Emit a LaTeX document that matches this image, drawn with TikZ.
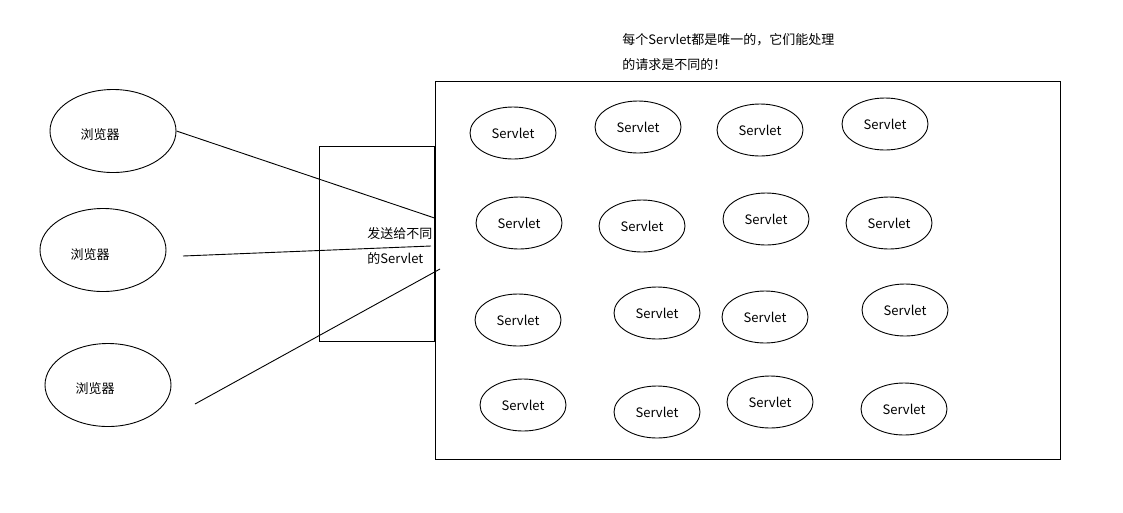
\documentclass[tikz,border=0pt]{standalone}
\usepackage{fontspec}
\setmainfont{Noto Sans CJK SC}
\usetikzlibrary{calc,
shapes.geometric,
positioning}

\begin{document}
\begin{tikzpicture} [x = 1pt, y = -1pt,
  line width = .9pt,
  font = \fontsize{13}{25}\selectfont,
  browser node/.style={ellipse, draw, inner sep = 0,
      minimum width = 126, minimum height = 83},
  servlet node/.style={ellipse, draw, inner sep = 0,
      minimum width = 86, minimum height = 52},
  main node/.style={rectangle, draw, inner sep = 0}]

  \useasboundingbox (0, 0) rectangle (1123, 512);

  % browsers
  \node [browser node,
    label = {[xshift = -13, yshift = -4]center:浏览器}
  ] (b1) at (113, 131) {};
  \node [browser node,
    label = {[xshift = -13, yshift = -5]center:浏览器}
  ] (b2) at (103, 250) {};
  \node [browser node,
    label = {[xshift = -13, yshift = -4]center:浏览器}
  ] (b3) at (108, 385) {};

  % container of the servlets
  \node [main node,
    minimum width = 625,
    minimum height = 378
  ] (box) at (747.5, 270) {};

  \node [main node,
    minimum width = 115,
    minimum height = 195,
    anchor = north east
  ] (disp) at (box.west |- 0, 146) {};

  \node [anchor = west, align = left, inner sep = 0
  ] (disptext) at (367, 245.5) {发送给不同\\的Servlet};

  \node [anchor = west, align = left, inner sep = 0
  ] (title) at (622, 52.5) {每个Servlet都是唯一的，它们能处理\\的请求是不同的！};

  % servlets
  \node [servlet node] (s11) at (513, 133) {Servlet};
  \node [servlet node] (s12) at (638, 127) {Servlet};
  \node [servlet node] (s13) at (760, 130) {Servlet};
  \node [servlet node] (s14) at (885, 124) {Servlet};

  \node [servlet node] (s21) at (519, 223) {Servlet};
  \node [servlet node] (s22) at (642, 226) {Servlet};
  \node [servlet node] (s23) at (766, 219) {Servlet};
  \node [servlet node] (s24) at (889, 223) {Servlet};

  \node [servlet node] (s31) at (518, 320) {Servlet};
  \node [servlet node] (s32) at (657, 313) {Servlet};
  \node [servlet node] (s33) at (765, 317) {Servlet};
  \node [servlet node] (s34) at (905, 310) {Servlet};

  \node [servlet node] (s41) at (523, 405) {Servlet};
  \node [servlet node] (s42) at (657, 412) {Servlet};
  \node [servlet node] (s43) at (770, 402) {Servlet};
  \node [servlet node] (s44) at (904, 409) {Servlet};

  % requests
  \coordinate (r1) at (box.west |- 0, 218);
  \coordinate (a2) at (183, 256);
  \coordinate (r2) at (431, 246);
  \coordinate (a3) at (195, 404);
  \coordinate (r3) at (440, 269);

  \draw (b1.east) -- (r1);
  \draw (a2) -- (r2);
  \draw (a3) -- (r3);

\end{tikzpicture}
\end{document}
